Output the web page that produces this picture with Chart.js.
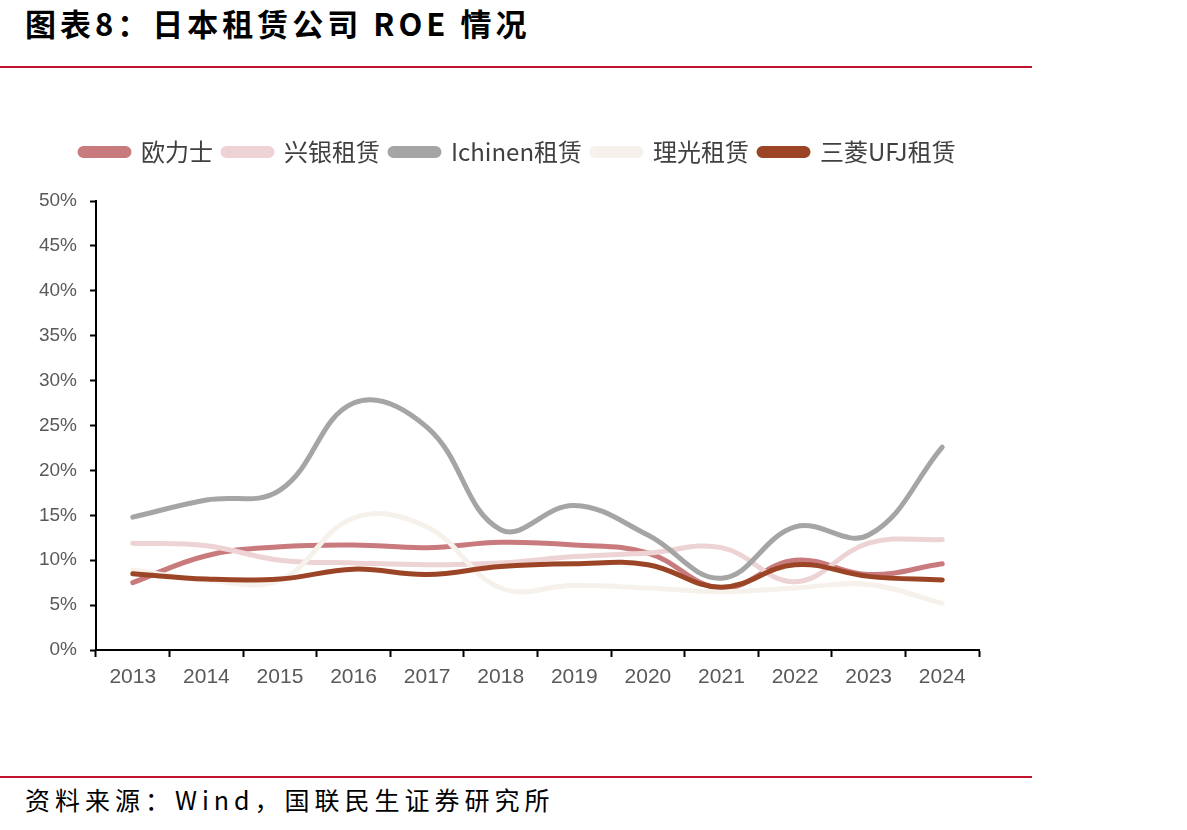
<!DOCTYPE html>
<html>
<head>
<meta charset="utf-8">
<script src="https://cdn.jsdelivr.net/npm/chart.js@4.4.1/dist/chart.umd.min.js"></script>
<style>
    body { margin: 0; background: #fff; width: 1187px; height: 830px; position: relative; overflow: hidden; }
    .title { position: absolute; left: 25px; top: 0px; font-family: "Noto Sans CJK SC", sans-serif; font-weight: 700; font-size: 31px; color: #000; letter-spacing: 4px; }
    .rule { position: absolute; left: 0; width: 1032px; height: 2px; background: #C0142F; }
    .source { position: absolute; left: 25px; top: 781px; font-family: "Noto Sans CJK SC", sans-serif; font-size: 25px; color: #000; letter-spacing: 5px; }
    #wrap { position: absolute; left: 0; top: 130px; width: 1034px; height: 570px; }
</style>
</head>
<body>
<div class="title">图表8：日本租赁公司 ROE 情况</div>
<div class="rule" style="top:66px"></div>
<div id="wrap"><canvas id="roeChart"></canvas></div>
<div class="rule" style="top:776px"></div>
<div class="source">资料来源：Wind，国联民生证券研究所</div>

<script>
// Years on the x axis
const years = ['2013', '2014', '2015', '2016', '2017', '2018', '2019', '2020', '2021', '2022', '2023', '2024'];

// ROE by company, in percent
const orix = [7.5, 10.5, 11.5, 11.7, 11.4, 12.0, 11.7, 10.8, 6.9, 10.0, 8.4, 9.6];
const xingyin = [11.9, 11.6, 10.0, 9.7, 9.5, 9.7, 10.4, 10.8, 11.4, 7.6, 11.9, 12.3];
const ichinen = [14.8, 16.7, 17.8, 27.5, 24.8, 13.4, 16.1, 12.8, 8.0, 13.7, 12.8, 22.6];
const ricoh = [8.9, 7.8, 7.8, 14.7, 13.7, 6.9, 7.2, 6.9, 6.5, 6.9, 7.3, 5.2];
const mufg = [8.5, 7.9, 7.9, 9.0, 8.4, 9.3, 9.6, 9.5, 7.0, 9.5, 8.2, 7.8];

const seriesNames = ['欧力士', '兴银租赁', 'Ichinen租赁', '理光租赁', '三菱UFJ租赁'];
const seriesData = [orix, xingyin, ichinen, ricoh, mufg];
const seriesColors = ['#C87A7C', '#EDD3D4', '#A5A5A5', '#F6F2EB', '#9C4426'];

function initRoeChart() {
    const ctx = document.getElementById('roeChart').getContext('2d');

    const datasets = seriesNames.map((name, i) => ({
        label: name,
        data: seriesData[i],
        borderColor: seriesColors[i],
        backgroundColor: seriesColors[i],
        borderWidth: 5,
        pointRadius: 0,
        fill: false,
        tension: 0.4,
        borderCapStyle: 'round',
        order: -i   // later series sit on top, like the original
    }));

    // leave a gap under the legend and start it at x=70, like the original
    const legendPlace = {
        id: 'legendPlace',
        beforeInit(chart) {
            const legend = chart.legend;
            const fit = legend.fit.bind(legend);
            legend.fit = function() {
                fit();
                this.height += 27;
            };
        },
        beforeDraw(chart) {
            chart.legend.left = 70;
        }
    };

    new Chart(ctx, {
        type: 'line',
        data: {
            labels: years,
            datasets: datasets
        },
        plugins: [legendPlace],
        options: {
            responsive: true,
            maintainAspectRatio: false,
            animation: false,
            layout: { padding: { left: 0, right: 55, top: 0, bottom: 0 } },
            plugins: {
                legend: {
                    display: true,
                    position: 'top',
                    align: 'start',
                    labels: {
                        boxWidth: 49,
                        boxHeight: 7,
                        padding: 10,
                        useBorderRadius: true,
                        borderRadius: 3.5,
                        color: '#404040',
                        font: { family: '"Noto Sans CJK SC", sans-serif', size: 24 },
                        sort: (a, b) => a.datasetIndex - b.datasetIndex
                    }
                },
                tooltip: { enabled: false }
            },
            scales: {
                x: {
                    offset: true,
                    grid: {
                        offset: true,
                        drawOnChartArea: false,
                        drawTicks: true,
                        tickLength: 7,
                        tickWidth: 2,
                        color: '#000'
                    },
                    border: { color: '#000', width: 2 },
                    ticks: {
                        padding: 8,
                        color: '#595959',
                        font: { family: '"Liberation Sans", Arial, sans-serif', size: 21 },
                        maxRotation: 0
                    },
                    afterFit(scale) { scale.height = 50; }
                },
                y: {
                    min: 0,
                    max: 50,
                    grid: {
                        drawOnChartArea: false,
                        drawTicks: true,
                        tickLength: 6,
                        tickWidth: 2,
                        color: '#000'
                    },
                    border: { color: '#000', width: 2 },
                    ticks: {
                        stepSize: 5,
                        padding: 13,
                        color: '#595959',
                        font: { family: '"Liberation Sans", Arial, sans-serif', size: 19 },
                        callback: value => value + '%'
                    },
                    afterFit(scale) { scale.width = 96; }
                }
            }
        }
    });
}

initRoeChart();
</script>
</body>
</html>
